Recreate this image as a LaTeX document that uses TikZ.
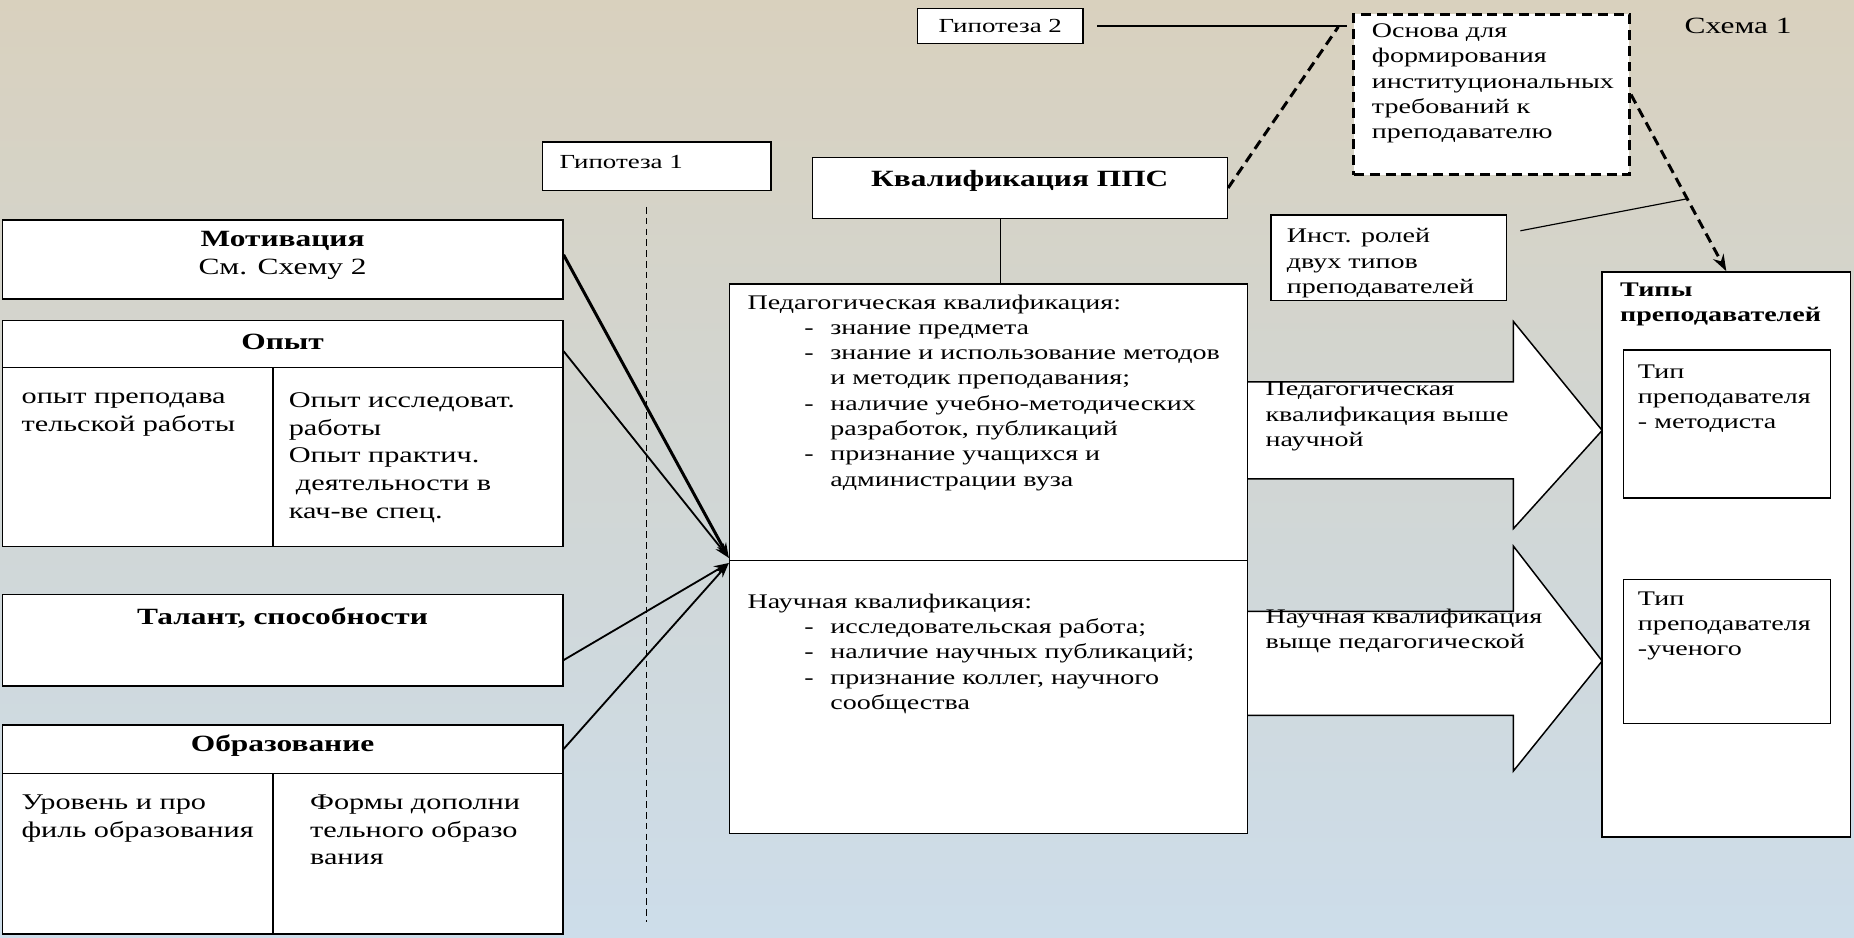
\documentclass[tikz,border=0pt]{standalone}
\usepackage{fontspec}
\setmainfont{Liberation Serif}[FakeStretch=1.35]
\usetikzlibrary{arrows.meta}
\definecolor{bgtop}{RGB}{217,209,190}
\definecolor{bgmid}{RGB}{209,214,212}
\definecolor{bgbot}{RGB}{205,221,234}
\newcommand{\dashitem}{\makebox[1.75cm][l]{\hspace{1.2cm}-}}
\newcommand{\contline}{\hspace*{1.75cm}}

\begin{document}
\begin{tikzpicture}
		[	box/.style={rectangle,draw=black,fill=white,line width=0.9pt,inner sep=0pt},
		dbox/.style={box,line width=1.8pt,dash pattern=on 6pt off 3.5pt},
		txt/.style={inner sep=0pt,anchor=north west,align=left,font=\fontsize{12.5}{15.2}\selectfont},
		txtl/.style={txt,font=\fontsize{13.5}{16.6}\selectfont},
		head/.style={inner sep=0pt,align=center,font=\bfseries\fontsize{14}{17}\selectfont},
		feed/.style={-{Stealth[length=9pt,width=6pt]},line width=1.1pt},
		dline/.style={line width=1.8pt,dash pattern=on 6pt off 3.5pt}
		]
		\shade[top color=bgtop,bottom color=bgbot,middle color=bgmid] (0,0) rectangle (39.2,19.825);

% block arrows
\draw[fill=white,line width=0.9pt] (26.375,11.75) -- (32,11.75) -- (32,13.025) -- (33.875,10.725)
      -- (32,8.65) -- (32,9.7) -- (26.375,9.7);
\draw[fill=white,line width=0.9pt] (26.375,6.9) -- (32,6.9) -- (32,8.275) -- (33.875,5.85)
      -- (32,3.525) -- (32,4.7) -- (26.375,4.7);
\node[txt] at (26.75,11.75) {Педагогическая\\квалификация выше\\научной};
\node[txt] at (26.75,6.95) {Научная квалификация\\выще педагогической};

% top
		\node[box,minimum width=3.5cm,minimum height=0.75cm,font=\fontsize{12}{14}\selectfont] (hyp2) at (21.15,19.275){Гипотеза 2};
		\node[dbox,minimum width=5.825cm,minimum height=3.4cm] (osnova) at (31.54,17.825){};
		\node[txt] at (29.0,19.325){Основа для\\формирования\\институциональных\\требований к\\преподавателю};
		\node[inner sep=0pt,font=\fontsize{14}{17}\selectfont] (schema) at (36.75,19.275){Схема 1};
		\node[box,minimum width=8.775cm,minimum height=1.3cm] (kval) at (21.5625,15.85){};
		\node[head] at (21.5625,16.0){Квалификация ППС};
		\node[box,minimum width=4.825cm,minimum height=1.025cm] (hyp1) at (13.8875,16.3125){};
		\node[txt,anchor=west,font=\fontsize{12}{14}\selectfont] at (11.825,16.4){Гипотеза 1};
		\node[box,minimum width=4.975cm,minimum height=1.8cm] (inst) at (29.3625,14.375){};
		\node[txt] at (27.2,15.0){Инст. ролей\\двух типов\\преподавателей};

% types
		\node[box,minimum width=5.25cm,minimum height=11.95cm] (tipy) at (36.5,8.1){};
		\node[txt,font=\bfseries\fontsize{12.5}{15.2}\selectfont] at (34.25,13.85){Типы\\преподавателей};
		\node[box,minimum width=4.375cm,minimum height=3.125cm] (tip1) at (36.5125,10.8625){};
		\node[txt] at (34.625,12.125){Тип\\преподавателя\\- методиста};
		\node[box,minimum width=4.375cm,minimum height=3.05cm] (tip2) at (36.5125,6.05){};
		\node[txt] at (34.625,7.325){Тип\\преподавателя\\-ученого};

% qualification
		\node[box,minimum width=10.95cm,minimum height=5.85cm] (ped) at (20.9,10.9){};
		\node[txt] at (15.8,13.6){Педагогическая квалификация:\\
			\dashitem знание предмета\\
			\dashitem знание и использование методов\\
			\contline и методик преподавания;\\
			\dashitem наличие учебно-методических\\
			\contline разработок, публикаций\\
			\dashitem признание учащихся и\\
			\contline администрации вуза};
		\node[box,minimum width=10.95cm,minimum height=5.775cm] (nauch) at (20.9,5.0875){};
		\node[txt] at (15.8,7.275){Научная квалификация:\\
			\dashitem исследовательская работа;\\
			\dashitem наличие научных публикаций;\\
			\dashitem признание коллег, научного\\
			\contline сообщества};

% factors
		\node[box,minimum width=11.85cm,minimum height=1.675cm] (motiv) at (5.975,14.3375){};
		\node[head] at (5.975,14.42){Мотивация\\\mdseries См. Схему 2};
		\node[box,minimum width=11.85cm,minimum height=1.0cm] (opytH) at (5.975,12.55){};
		\node[head] at (5.975,12.6){Опыт};
		\node[box,minimum width=5.725cm,minimum height=3.775cm] (opytL) at (2.9125,10.1625){};
		\node[box,minimum width=6.125cm,minimum height=3.775cm] (opytR) at (8.8375,10.1625){};
		\node[txtl] at (0.45,11.525){опыт преподава\\тельской работы};
		\node[txtl] at (6.1,11.525){Опыт исследоват.\\работы\\Опыт практич.\\\hspace*{0.15cm}деятельности в\\кач-ве спец.};
		\node[box,minimum width=11.85cm,minimum height=1.925cm] (talant) at (5.975,6.2875){};
		\node[head] at (5.975,6.75){Талант, способности};
		\node[box,minimum width=11.85cm,minimum height=1.025cm] (obrH) at (5.975,3.9875){};
		\node[head] at (5.975,4.05){Образование};
		\node[box,minimum width=5.725cm,minimum height=3.4cm] (obrL) at (2.9125,1.775){};
		\node[box,minimum width=6.125cm,minimum height=3.4cm] (obrR) at (8.8375,1.775){};
		\node[txtl] at (0.45,3.025){Уровень и про\\филь образования};
		\node[txtl] at (6.55,3.025){Формы дополни\\тельного образо\\вания};

		\draw[line width=0.8pt,dash pattern=on 4pt off 2.5pt] (13.675,15.45) -- (13.675,0.325);

% connectors
		\draw[feed,line width=1.8pt] ([yshift=0.1cm]motiv.east) -- ([yshift=2pt]ped.south west);
		\draw[feed] ([yshift=-0.15cm]opytH.east) -- ([yshift=2pt]ped.south west);
		\draw[feed] ([yshift=-0.42cm]talant.east) -- ([yshift=-2pt]nauch.north west);
		\draw[feed] (obrH.east) -- ([yshift=-2pt]nauch.north west);
		\draw[line width=0.7pt] ([xshift=-0.4cm]kval.south) -- ([xshift=-0.4cm]kval.south |- ped.north);
		\draw[line width=0.7pt,shorten <=8pt,shorten >=3pt] (hyp2.east) -- (hyp2.east -| osnova.west);
		\draw[dline] (kval.east) -- ([xshift=-0.3cm,yshift=-0.3cm]osnova.north west);
		\draw[dline,-{Stealth[length=10pt,width=7pt]}] (osnova.east) -- coordinate[pos=0.59] (brk) (tipy.north);
		\draw[line width=0.7pt] ([xshift=0.28cm,yshift=0.57cm]inst.east) -- (brk);
	\end{tikzpicture}
\end{document}
